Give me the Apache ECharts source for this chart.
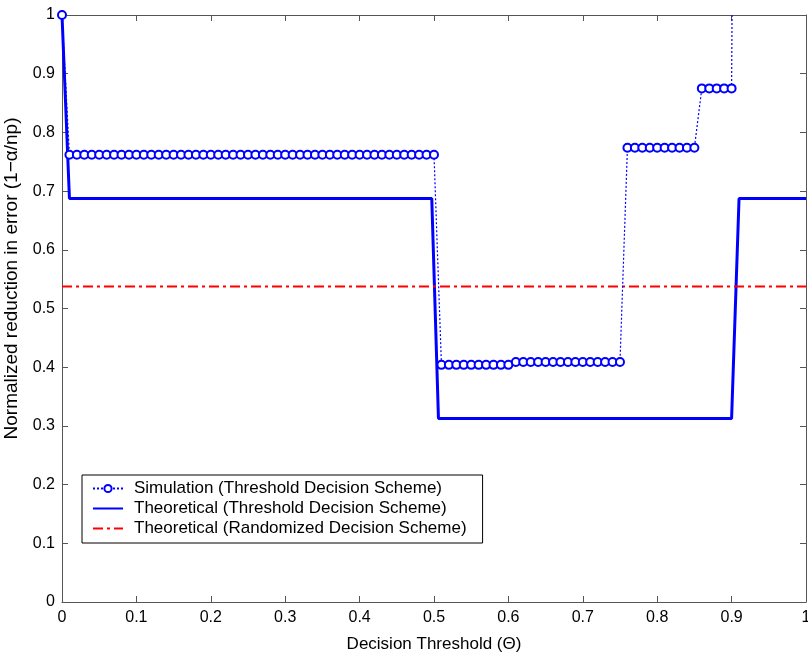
<!DOCTYPE html>
<html>
<head>
<meta charset="utf-8">
<script src="https://cdn.jsdelivr.net/npm/echarts@6/dist/echarts.min.js"></script>
<style>html,body{margin:0;padding:0;background:#fff}#c{width:808px;height:654px}</style>
</head>
<body>
<div id="c"></div>
<script>
// Simulation (threshold decision scheme): x in steps of 0.01
const simX = [0.00,0.01,0.02,0.03,0.04,0.05,0.06,0.07,0.08,0.09,
  0.10,0.11,0.12,0.13,0.14,0.15,0.16,0.17,0.18,0.19,
  0.20,0.21,0.22,0.23,0.24,0.25,0.26,0.27,0.28,0.29,
  0.30,0.31,0.32,0.33,0.34,0.35,0.36,0.37,0.38,0.39,
  0.40,0.41,0.42,0.43,0.44,0.45,0.46,0.47,0.48,0.49,
  0.50,0.51,0.52,0.53,0.54,0.55,0.56,0.57,0.58,0.59,
  0.60,0.61,0.62,0.63,0.64,0.65,0.66,0.67,0.68,0.69,
  0.70,0.71,0.72,0.73,0.74,0.75,0.76,0.77,0.78,0.79,
  0.80,0.81,0.82,0.83,0.84,0.85,0.86,0.87,0.88,0.89,
  0.90,0.91];
const simY = [1.000,0.762,0.762,0.762,0.762,0.762,0.762,0.762,0.762,0.762,
  0.762,0.762,0.762,0.762,0.762,0.762,0.762,0.762,0.762,0.762,
  0.762,0.762,0.762,0.762,0.762,0.762,0.762,0.762,0.762,0.762,
  0.762,0.762,0.762,0.762,0.762,0.762,0.762,0.762,0.762,0.762,
  0.762,0.762,0.762,0.762,0.762,0.762,0.762,0.762,0.762,0.762,
  0.762,0.404,0.404,0.404,0.404,0.404,0.404,0.404,0.404,0.404,
  0.404,0.409,0.409,0.409,0.409,0.409,0.409,0.409,0.409,0.409,
  0.409,0.409,0.409,0.409,0.409,0.409,0.774,0.774,0.774,0.774,
  0.774,0.774,0.774,0.774,0.774,0.774,0.875,0.875,0.875,0.875,
  0.875,3.000];
// Theoretical (threshold decision scheme)
const theoX = [0.000,0.010,0.497,0.506,0.900,0.910,1.000];
const theoY = [1.0000,0.6875,0.6875,0.3125,0.3125,0.6875,0.6875];
// Theoretical (randomized decision scheme)
const randX = [0,1];
const randY = [0.5375,0.5375];
const names = ['Simulation (Threshold Decision Scheme)','Theoretical (Threshold Decision Scheme)','Theoretical (Randomized Decision Scheme)'];

const zip = (a,b)=>a.map((v,i)=>[v,b[i]]);
const F = 'Liberation Sans, Arial, sans-serif';
const AX = '#555';
const axisBase = {
  min:0, max:1, interval:0.1,
  axisLine:{show:true,onZero:false,lineStyle:{color:AX,width:1}},
  axisTick:{show:true,inside:true,length:6,lineStyle:{color:AX}},
  splitLine:{show:false}
};
const chart = echarts.init(document.getElementById('c'));
chart.setOption({
  animation:false,
  backgroundColor:'#fff',
  grid:{left:62,right:2,top:15,bottom:52,show:false,containLabel:false,outerBoundsMode:'none'},
  xAxis:[
    Object.assign({},axisBase,{type:'value',position:'bottom',
      name:'Decision Threshold (\u0398)',nameLocation:'middle',nameGap:34,
      nameTextStyle:{fontFamily:F,fontSize:17,color:'#000'},
      axisLabel:{fontFamily:F,fontSize:16,color:'#000',margin:8}}),
    Object.assign({},axisBase,{type:'value',position:'top',axisLabel:{show:false}})
  ],
  yAxis:[
    Object.assign({},axisBase,{type:'value',position:'left',
      name:'Normalized reduction in error (1\u2212\u03b1/np)',nameLocation:'middle',nameGap:41,
      nameTextStyle:{fontFamily:F,fontSize:19,color:'#000',padding:[0,0,0,60]},
      axisLabel:{fontFamily:F,fontSize:16,color:'#000',margin:7}}),
    Object.assign({},axisBase,{type:'value',position:'right',axisLabel:{show:false}})
  ],
  legend:{
    show:true, orient:'vertical', left:82, top:475,
    data:[
      {name:names[0]},
      {name:names[1],itemStyle:{opacity:0}},
      {name:names[2],itemStyle:{opacity:0}}
    ],
    backgroundColor:'#fff', borderColor:'#000', borderWidth:1,
    padding:[5,16,6,10], itemGap:3, itemWidth:30, itemHeight:9,
    textStyle:{fontFamily:F,fontSize:17,color:'#000',lineHeight:17,padding:[0,0,0,6]}
  },
  series:[
    {name:names[0],type:'line',data:zip(simX,simY),clip:true,
      symbol:'emptyCircle',symbolSize:8,showAllSymbol:true,
      itemStyle:{color:'#0000ff',borderWidth:2},
      lineStyle:{color:'#0000ff',width:1.2,type:[2,2]},z:3},
    {name:names[1],type:'line',data:zip(theoX,theoY),symbol:'none',clip:true,
      itemStyle:{color:'#0000ff'},
      lineStyle:{color:'#0000ff',width:3,type:'solid'},z:2},
    {name:names[2],type:'line',data:zip(randX,randY),symbol:'none',clip:true,
      itemStyle:{color:'#ff0000'},
      lineStyle:{color:'#ff0000',width:2,type:[10,4,3,4]},z:2}
  ]
});
</script>
</body>
</html>
